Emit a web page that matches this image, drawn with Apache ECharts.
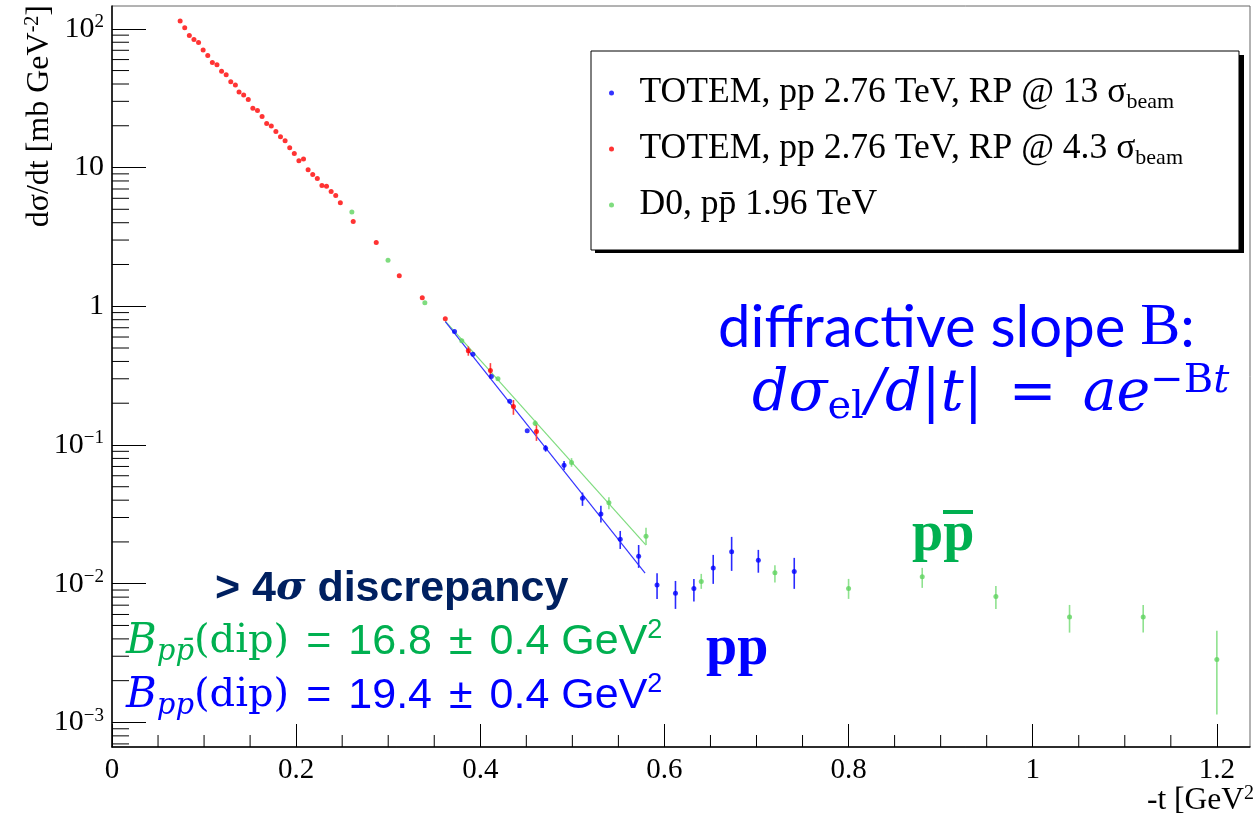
<!DOCTYPE html>
<html><head><meta charset="utf-8">
<script src="https://cdn.jsdelivr.net/npm/echarts@6.0.0/dist/echarts.min.js"></script>
<style>html,body{margin:0;padding:0;background:#fff;}#c{width:1254px;height:818px;}</style>
</head><body><div id="c"></div>
<script>
// ---- data ----
const redT = [0.074,0.079,0.084,0.089,0.094,0.099,0.104,0.109,0.114,0.119,0.124,0.129,0.134,0.138,0.143,0.148,0.153,0.158,0.163,0.168,0.173,0.178,0.183,0.188,0.193,0.198,0.203,0.208,0.213,0.218,0.223,0.228,0.233,0.238,0.243,0.248,0.262,0.287,0.312,0.337,0.362,0.387,0.411,0.436,0.461];
const redY = [114,101.7,89.5,83.7,79.6,70.2,64.2,57.2,55.0,49.5,46.6,41.5,39.3,35.1,33.3,30.9,26.8,25.8,23.3,20.8,19.9,18.2,16.7,15.6,13.9,12.6,11.2,11.5,9.63,8.90,8.33,7.42,7.34,6.71,6.28,5.57,4.08,2.88,1.66,1.15,0.811,0.477,0.344,0.189,0.125];
const redBarT  = [0.387,0.411,0.436,0.461];
const redBarLo = [0.44,0.303,0.165,0.107];
const redBarHi = [0.513,0.389,0.211,0.1396];

const blueT = [0.372,0.392,0.412,0.432,0.451,0.471,0.491,0.511,0.531,0.552,0.572,0.592,0.612,0.632,0.653,0.673,0.702,0.741];
const blueY = [0.657,0.451,0.311,0.207,0.1264,0.0948,0.0715,0.0413,0.0318,0.0209,0.0158,0.0098,0.00854,0.00922,0.0130,0.0170,0.01477,0.01223];
const blueBarT  = [0.471,0.491,0.511,0.531,0.552,0.572,0.592,0.612,0.632,0.653,0.673,0.702,0.741];
const blueBarLo = [0.0895,0.0661,0.0364,0.0276,0.0178,0.0130,0.00777,0.00658,0.00743,0.00997,0.01237,0.0120,0.00918];
const blueBarHi = [0.0998,0.0768,0.0454,0.0364,0.0240,0.0190,0.0119,0.01047,0.01083,0.01613,0.02175,0.01753,0.01535];

const greenT = [0.2605,0.2998,0.3398,0.3799,0.4192,0.4596,0.4991,0.5397,0.58,0.64,0.72,0.80,0.88,0.96,1.04,1.12,1.20];
const greenY = [4.77,2.15,1.06,0.563,0.300,0.1436,0.0747,0.0383,0.0220,0.01035,0.01197,0.00922,0.0112,0.00807,0.00576,0.00576,0.00284];
const greenBarT  = [0.4596,0.4991,0.5397,0.58,0.64,0.72,0.80,0.88,0.96,1.04,1.12,1.20];
const greenBarLo = [0.137,0.0697,0.0344,0.0190,0.00918,0.01019,0.00777,0.00933,0.00658,0.00444,0.00444,0.00114];
const greenBarHi = [0.151,0.0804,0.042,0.0253,0.01177,0.01357,0.01083,0.0130,0.00964,0.00703,0.00703,0.00457];

const blueFitT = [0.362,0.579];
const blueFitY = [0.776,0.0119];
const greenFitT = [0.362,0.580];
const greenFitY = [0.78,0.019];

const seriesNames = ['TOTEM, pp 2.76 TeV, RP @ 13 σbeam','TOTEM, pp 2.76 TeV, RP @ 4.3 σbeam','D0, pp̄ 1.96 TeV'];
const legendRich = ['{a|TOTEM, pp 2.76 TeV, RP @ 13 }{g|σ}{s|beam}','{a|TOTEM, pp 2.76 TeV, RP @ 4.3 }{g|σ}{s|beam}','{a|D0, pp̄ 1.96 TeV}'];

const xTickLabels = ['0','0.2','0.4','0.6','0.8','1','1.2'];
const xMinorTicks = [0.05,0.1,0.15,0.25,0.3,0.35,0.45,0.5,0.55,0.65,0.7,0.75,0.85,0.9,0.95,1.05,1.1,1.15];
const yDecades = [1e-4,1e-3,1e-2,1e-1,1,10,100];
const yMultipliers = [2,3,4,5,6,7,8,9];

const X_MIN = 0, X_MAX = 1.236, Y_MIN = 6.65e-4, Y_MAX = 146;
// ---------------------------------

const yMinorTicks = [];
yDecades.forEach(d => yMultipliers.forEach(m => { const v = d*m; if (v > Y_MIN && v < Y_MAX) yMinorTicks.push(v); }));

const zip = (a,b) => a.map((v,i)=>[v,b[i]]);
const zip3 = (a,b,c) => a.map((v,i)=>[v,b[i],c[i]]);

const BLUE='#0000ff', RED='#ff0000', GREEN='#5fd35f';

function barSeries(data, color){
  return {type:'custom', data, encode:{x:0,y:[1,2]}, z:3, silent:true,
    renderItem:(p,api)=>{const a=api.coord([api.value(0),api.value(1)]);const b=api.coord([api.value(0),api.value(2)]);
      return {type:'line',shape:{x1:a[0],y1:a[1],x2:b[0],y2:b[1]},style:{stroke:color,lineWidth:1.6}};}};
}
function supFmt(v){
  const e = Math.round(Math.log10(v));
  if (e===0) return '{b|1}';
  if (e===1) return '{b|10}';
  return '{b|10}{s|'+(e<0?'\u2212'+(-e):e)+'}';
}

const chart = echarts.init(document.getElementById('c'), null, {renderer:'canvas'});
const option = {
  animation:false,
  backgroundColor:'#fff',
  grid:{left:112,right:4,top:6,bottom:71,show:true,borderColor:'#666',borderWidth:1,backgroundColor:'transparent'},
  xAxis:{type:'value',min:X_MIN,max:X_MAX,interval:0.2,
    axisLine:{show:true,lineStyle:{color:'#000',width:1.5}},
    axisTick:{show:true,inside:true,length:23,lineStyle:{color:'#000',width:1}},
    splitLine:{show:false},
    axisLabel:{showMaxLabel:false,showMinLabel:true,margin:9,color:'#000',fontFamily:'Liberation Serif',fontSize:29,
      formatter:v=>{const i=Math.round(v/0.2);return xTickLabels[i]!==undefined && Math.abs(v-i*0.2)<1e-6?xTickLabels[i]:'';}}},
  yAxis:{type:'log',min:Y_MIN,max:Y_MAX,
    axisLine:{show:true,lineStyle:{color:'#000',width:1.5}},
    axisTick:{show:true,inside:true,length:34,lineStyle:{color:'#000',width:1}},
    splitLine:{show:false},
    axisLabel:{showMinLabel:false,showMaxLabel:false,margin:8,color:'#000',formatter:supFmt,
      rich:{b:{fontFamily:'Liberation Serif',fontSize:30,lineHeight:32,color:'#000'},
            s:{fontFamily:'Liberation Serif',fontSize:19,lineHeight:17,verticalAlign:'top',color:'#000'}}}},
  legend:{orient:'vertical',left:591,top:51,padding:[24,56,27,18],itemWidth:26,itemHeight:5,itemGap:18,z:10,
    icon:'circle',selectedMode:false,data:seriesNames,
    backgroundColor:'#fff',borderColor:'#000',borderWidth:1,
    formatter:n=>legendRich[seriesNames.indexOf(n)],
    textStyle:{color:'#000',fontFamily:'Liberation Serif',fontSize:35.6,
      rich:{a:{fontFamily:'Liberation Serif',fontSize:35.6,lineHeight:40,color:'#000',padding:[0,0,0,10]},
            g:{fontFamily:'Liberation Serif',fontSize:35.6,lineHeight:40,color:'#000'},
            s:{fontFamily:'Liberation Serif',fontSize:22,lineHeight:22,verticalAlign:'bottom',color:'#000'}}}},
  series:[
    {type:'line',data:zip(greenFitT,greenFitY),symbol:'none',lineStyle:{color:'#7fdc7f',width:1.2},z:2,silent:true},
    {type:'line',data:zip(blueFitT,blueFitY),symbol:'none',lineStyle:{color:'#3333ff',width:1.2},z:2,silent:true},
    barSeries(zip3(greenBarT,greenBarLo,greenBarHi),'#8fe28f'),
    barSeries(zip3(redBarT,redBarLo,redBarHi),'#ff4040'),
    barSeries(zip3(blueBarT,blueBarLo,blueBarHi),'#2a2aff'),
    {name:seriesNames[2],type:'scatter',data:zip(greenT,greenY),symbol:'circle',symbolSize:5,itemStyle:{color:GREEN},z:4},
    {name:seriesNames[1],type:'scatter',data:zip(redT,redY),symbol:'circle',symbolSize:5,itemStyle:{color:RED},z:4},
    {name:seriesNames[0],type:'scatter',data:zip(blueT,blueY),symbol:'circle',symbolSize:5,itemStyle:{color:BLUE},z:5},
    {type:'custom',data:xMinorTicks.map(v=>[v,Y_MIN]),encode:{x:0,y:1},z:6,silent:true,
      renderItem:(p,api)=>{const c=api.coord([api.value(0),api.value(1)]);return {type:'line',shape:{x1:c[0],y1:c[1],x2:c[0],y2:c[1]-12},style:{stroke:'#000',lineWidth:1}};}},
    {type:'custom',data:yMinorTicks.map(v=>[X_MIN,v]),encode:{x:0,y:1},z:6,silent:true,
      renderItem:(p,api)=>{const c=api.coord([api.value(0),api.value(1)]);return {type:'line',shape:{x1:c[0],y1:c[1],x2:c[0]+17,y2:c[1]},style:{stroke:'#000',lineWidth:1}};}}
  ],
  graphic:[
    {type:'rect',z:1,silent:true,shape:{x:595,y:55,width:649,height:198},style:{fill:'#000'}},
    {type:'text',x:40,y:5,rotation:Math.PI/2,silent:true,style:{text:'{t|dσ/dt [mb GeV}{s|-2}{t|]}',align:'right',verticalAlign:'middle',
      rich:{t:{fontFamily:'Liberation Serif',fontSize:32,lineHeight:34,fill:'#000'},s:{fontFamily:'Liberation Serif',fontSize:20,lineHeight:18,verticalAlign:'top',fill:'#000'}}}},
    {type:'text',x:1147,y:801,silent:true,style:{text:'{t|-t [GeV}{s|2}{t|]}',align:'left',verticalAlign:'middle',
      rich:{t:{fontFamily:'Liberation Serif',fontSize:31.5,lineHeight:34,fill:'#000'},s:{fontFamily:'Liberation Serif',fontSize:20,lineHeight:18,verticalAlign:'top',fill:'#000'}}}},
    {type:'text',x:718,y:328,silent:true,style:{text:'{a|diffractive slope }{b|B}{a|:}',align:'left',verticalAlign:'middle',
      rich:{a:{fontFamily:'Lato',fontSize:58,lineHeight:66,fill:'#0000ff'},b:{fontFamily:'Liberation Serif',fontSize:60,lineHeight:66,fill:'#0000ff'}}}},
    {type:'text',x:752,y:395,silent:true,style:{text:'{i|dσ}{sb|el}{i|/d}{r||}{i|t}{r||}{eq|=}{i|ae}{sp|−B}{si|t}',align:'left',verticalAlign:'middle',
      rich:{i:{fontFamily:'DejaVu Serif',fontStyle:'italic',fontSize:57,lineHeight:66,fill:'#0000ff'},
            r:{fontFamily:'DejaVu Serif',fontSize:57,lineHeight:66,fill:'#0000ff'},
            eq:{fontFamily:'DejaVu Serif',fontSize:57,lineHeight:66,fill:'#0000ff',padding:[0,26,0,26]},
            sb:{fontFamily:'DejaVu Serif',fontSize:40,lineHeight:40,verticalAlign:'bottom',fill:'#0000ff',padding:[0,2,0,0]},
            sp:{fontFamily:'DejaVu Serif',fontSize:40,lineHeight:40,verticalAlign:'top',fill:'#0000ff'},
            si:{fontFamily:'DejaVu Serif',fontStyle:'italic',fontSize:40,lineHeight:40,verticalAlign:'top',fill:'#0000ff'}}}},
    {type:'text',x:215,y:589,silent:true,style:{text:'{a|> 4}{g|σ}{a| discrepancy}',align:'left',verticalAlign:'middle',
      rich:{a:{fontFamily:'Liberation Sans',fontWeight:'bold',fontSize:43,lineHeight:48,fill:'#002060'},
            g:{fontFamily:'DejaVu Serif',fontStyle:'italic',fontWeight:'bold',fontSize:40,lineHeight:48,fill:'#002060'}}}},
    {type:'text',x:126,y:642,silent:true,style:{text:'{bi|B}{bs|pp\u0304}{rm|(dip)}{eq|=}{a|16.8}{eq|±}{a|0.4 GeV}{sp|2}',align:'left',verticalAlign:'middle',
      rich:{bi:{fontFamily:'DejaVu Serif',fontStyle:'italic',fontSize:42,lineHeight:50,fill:'#00b050'},
            bs:{fontFamily:'DejaVu Serif',fontStyle:'italic',fontSize:29,lineHeight:28,verticalAlign:'bottom',fill:'#00b050'},
            rm:{fontFamily:'DejaVu Serif',fontSize:40,lineHeight:50,fill:'#00b050'},
            eq:{fontFamily:'Liberation Sans',fontSize:43,lineHeight:50,fill:'#00b050',padding:[0,17,0,17]},
            a:{fontFamily:'Liberation Sans',fontSize:43,lineHeight:50,fill:'#00b050'},
            sp:{fontFamily:'Liberation Sans',fontSize:27,lineHeight:27,verticalAlign:'top',fill:'#00b050'}}}},
    {type:'text',x:126,y:696,silent:true,style:{text:'{bi|B}{bs|pp}{rm|(dip)}{eq|=}{a|19.4}{eq|±}{a|0.4 GeV}{sp|2}',align:'left',verticalAlign:'middle',
      rich:{bi:{fontFamily:'DejaVu Serif',fontStyle:'italic',fontSize:42,lineHeight:50,fill:'#0000ff'},
            bs:{fontFamily:'DejaVu Serif',fontStyle:'italic',fontSize:29,lineHeight:28,verticalAlign:'bottom',fill:'#0000ff'},
            rm:{fontFamily:'DejaVu Serif',fontSize:40,lineHeight:50,fill:'#0000ff'},
            eq:{fontFamily:'Liberation Sans',fontSize:43,lineHeight:50,fill:'#0000ff',padding:[0,17,0,17]},
            a:{fontFamily:'Liberation Sans',fontSize:43,lineHeight:50,fill:'#0000ff'},
            sp:{fontFamily:'Liberation Sans',fontSize:27,lineHeight:27,verticalAlign:'top',fill:'#0000ff'}}}},
    {type:'text',x:706,y:650,silent:true,style:{text:'pp',align:'left',verticalAlign:'middle',fontFamily:'Liberation Serif',fontWeight:'bold',fontSize:56,fill:'#0000ff'}},
    {type:'text',x:912,y:536,silent:true,style:{text:'pp',align:'left',verticalAlign:'middle',fontFamily:'Liberation Serif',fontWeight:'bold',fontSize:56,fill:'#00b050'}},
    {type:'rect',shape:{x:943,y:510,width:30,height:4},silent:true,style:{fill:'#00b050'}}
  ]
};
chart.setOption(option);
</script></body></html>
